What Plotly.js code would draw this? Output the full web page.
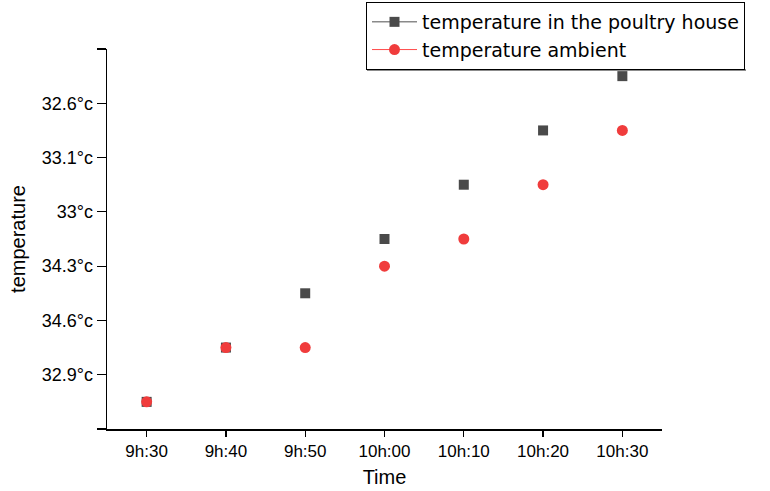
<!DOCTYPE html>
<html>
<head>
<meta charset="utf-8">
<script src="https://cdn.plot.ly/plotly-3.0.1.min.js"></script>
<style>html,body{margin:0;padding:0;background:#fff;}#chart{width:770px;height:491px;}</style>
</head>
<body>
<div id="chart"></div>
<script>
// Data
const timeLabels = ["9h:30", "9h:40", "9h:50", "10h:00", "10h:10", "10h:20", "10h:30"];
const timeIndex = [0, 1, 2, 3, 4, 5, 6];
const xMinorTicks = [-0.5, 0.5, 1.5, 2.5, 3.5, 4.5, 5.5, 6.5];
// y positions on the (label-indexed) temperature axis
const houseTemp = [0.5, 1.5, 2.5, 3.5, 4.5, 5.5, 6.5];
const ambientTemp = [0.5, 1.5, 1.5, 3, 3.5, 4.5, 5.5];
const yTickVals = [0, 1, 2, 3, 4, 5, 6, 7];
const yTickText = ["", "32.9°c", "34.6°c", "34.3°c", "33°c", "33.1°c", "32.6°c", ""];
const yMinorTicks = [0.5, 1.5, 2.5, 3.5, 4.5, 5.5, 6.5];

const FONT = "Liberation Sans, Arial, sans-serif";
const LEGEND_FONT = "DejaVu Sans, Liberation Sans, sans-serif";
const houseColor = "#4a4a4a";
const ambientColor = "#f03c3c";

const traces = [
  {x: timeIndex, y: houseTemp, mode: "markers", type: "scatter", showlegend: false,
   marker: {symbol: "square", size: 10, color: houseColor}},
  {x: timeIndex, y: ambientTemp, mode: "markers", type: "scatter", showlegend: false,
   marker: {symbol: "circle", size: 11, color: ambientColor}},
  {x: [null], y: [null], mode: "lines+markers", type: "scatter", name: "temperature in the poultry house",
   line: {color: "#8a8a8a", width: 1.5}, marker: {symbol: "square", size: 10, color: houseColor}},
  {x: [null], y: [null], mode: "lines+markers", type: "scatter", name: "temperature ambient",
   line: {color: "#ff4a4a", width: 1}, marker: {symbol: "circle", size: 11, color: ambientColor}}
];

const tickCommon = {showgrid: false, zeroline: false, tickcolor: "#000", tickwidth: 1.2, fixedrange: true};

const layout = {
  width: 770, height: 491,
  margin: {l: 107, r: 108, t: 49, b: 62, autoexpand: false},
  paper_bgcolor: "#fff", plot_bgcolor: "#fff",
  font: {family: FONT, color: "#000"},
  showlegend: true,
  legend: {
    x: (366 - 107) / 555, y: 1 + (49 - 2) / 380, xanchor: "left", yanchor: "top",
    bordercolor: "#000", borderwidth: 1, bgcolor: "#fff",
    font: {family: LEGEND_FONT, size: 19, color: "#000"},
    tracegroupgap: 0, itemwidth: 45
  },
  xaxis: Object.assign({}, tickCommon, {
    type: "linear", range: [-0.5, 6.5], tickmode: "array", tickvals: timeIndex, ticktext: timeLabels,
    showline: true, linecolor: "#000", linewidth: 1.5, automargin: false,
    ticks: "outside", ticklen: 6,
    tickfont: {family: FONT, size: 17, color: "#000"},
    title: {text: "Time", font: {family: FONT, size: 20, color: "#000"}, standoff: 10}
  }),
  xaxis2: Object.assign({}, tickCommon, {
    type: "linear", range: [-0.5, 6.5], overlaying: "x", anchor: "y", side: "bottom",
    tickmode: "array", tickvals: xMinorTicks, showticklabels: false, showline: false,
    ticks: "outside", ticklen: 3
  }),
  yaxis: Object.assign({}, tickCommon, {
    type: "linear", range: [0, 7], tickmode: "array", tickvals: yTickVals, ticktext: yTickText,
    showline: true, linecolor: "#000", linewidth: 1.5, automargin: false,
    ticks: "outside", ticklen: 9,
    tickfont: {family: FONT, size: 18, color: "#000"},
    title: {text: "temperature", font: {family: FONT, size: 20, color: "#000"}, standoff: 10}
  }),
  yaxis2: Object.assign({}, tickCommon, {
    type: "linear", range: [0, 7], overlaying: "y", anchor: "x", side: "left",
    tickmode: "array", tickvals: yMinorTicks, showticklabels: false, showline: false,
    ticks: "outside", ticklen: 4
  }),
  shapes: [
    // soft shadow under the legend box
    {type: "line", layer: "above", xref: "paper", yref: "paper",
     x0: (367 - 107) / 555, x1: (746 - 107) / 555,
     y0: (429 - 70) / 380, y1: (429 - 70) / 380,
     line: {color: "#8c8c8c", width: 2}}
  ]
};

Plotly.newPlot("chart", traces, layout, {displayModeBar: false, responsive: false, staticPlot: true});
</script>
</body>
</html>
